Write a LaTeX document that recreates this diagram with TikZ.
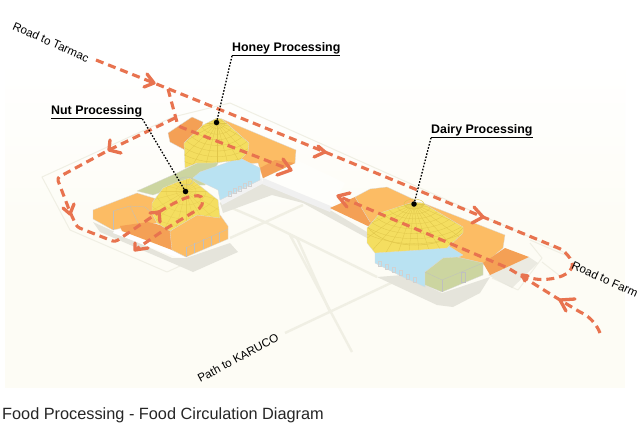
\documentclass[tikz,border=0pt]{standalone}
\usepackage{fontspec}
\setmainfont{Liberation Sans}
\definecolor{darkor}{HTML}{F4A055}
\definecolor{lightor}{HTML}{FCBC64}
\definecolor{yel}{HTML}{F4DE60}
\definecolor{blu}{HTML}{B9E2F2}
\definecolor{gre}{HTML}{CCD5A0}
\definecolor{flow}{HTML}{E8734F}
\definecolor{shad}{HTML}{E5E4DB}
\definecolor{pale}{HTML}{F0EFE4}
\definecolor{cream}{HTML}{FDFCF5}
\definecolor{hatch}{HTML}{E0C64A}
\tikzset{
  flowline/.style={draw=flow,line width=3.1pt,dash pattern=on 8pt off 5pt,line join=round,rounded corners=3pt},
  chev/.style={draw=flow,line width=3.3pt,line cap=round,line join=round},
  leader/.style={draw=black,line width=1.3pt,dash pattern=on 1.6pt off 1.6pt},
  dotmark/.style={circle,fill=black,inner sep=0pt,minimum size=5.5pt},
  lab/.style={font=\fontsize{12.4}{14}\selectfont\bfseries,inner sep=0pt},
  road/.style={font=\fontsize{11.6}{13}\selectfont,inner sep=0pt},
  ground/.style={draw=pale,line width=2.4pt},
  site/.style={draw=pale,line width=1pt,line join=round},
  shadow/.style={fill=shad,draw=none},
  bld/.style={draw=black!14,line width=.3pt,line join=round},
  hatchl/.style={draw=hatch,line width=.3pt},
  wire/.style={draw=black!25,line width=.3pt},
}
\begin{document}
\begin{tikzpicture}[x=1pt,y=-1pt]
\useasboundingbox (0,0) rectangle (640,426);
\fill[white] (0,0) rectangle (640,426);
\shade[top color=white,bottom color=cream] (5,60) rectangle (625,230);
\fill[cream] (5,229.5) rectangle (625,388);

% site outlines
\draw[site] (173,117) -- (42,177) -- (70,230) -- (167,272) -- (180,266);
\draw[site] (173,117) -- (230,103) -- (570,255);
\fill[white!60!cream] (297,160) -- (345,183) -- (333,207) -- (263,178) -- cycle;
\draw[site] (530,243) -- (542,258) -- (518,290) -- (492,278);
\draw[site] (530,240) -- (572,258);
\draw[site] (542,262) -- (560,276);

% ground paths
\draw[ground] (220,203) -- (267,223) -- (377,277);
\draw[ground] (230,238) -- (303,205);
\draw[ground] (285,333) -- (393,282);
\draw[ground] (290,235) -- (352,352);
\draw[ground] (297,238) -- (330,312);
\draw[ground] (290,235) -- (297,238);

% shadows and strip
\fill[shadow] (220,203) -- (262,183) -- (330,210) -- (367,232) -- (367,238) -- (303,203) -- (272,195) -- (223,213) -- cycle;
\fill[black!6] (263,178) -- (333,207) -- (330,212) -- (262,184) -- cycle;
\fill[black!5] (220,200) -- (262,178) -- (262,184) -- (222,205) -- cycle;
\fill[shadow] (93,222) -- (172,258) -- (186,258) -- (230,243) -- (238,252) -- (193,272) -- (177,265) -- (100,232) -- cycle;
\fill[white] (115,229) -- (172,250) -- (186,258) -- (176,257) -- (113,233) -- cycle;
\fill[shadow] (377,277) -- (403,275) -- (442,293) -- (490,277) -- (480,293) -- (453,307) -- (437,305) -- cycle;
\fill[shadow,opacity=.75] (488,275) -- (512,288) -- (538,263) -- (529,257) -- cycle;

% Honey building
\fill[darkor,bld] (168,133) -- (192,117) -- (203,122) -- (200,135) -- (185,150) -- (170,142) -- cycle;
\fill[lightor,bld] (222,119) -- (296,150) -- (295,163) -- (263,178) -- (258,163) -- (235,165) -- (225,130) -- cycle;
\fill[darkor] (295,163) -- (263,178) -- (260,168) -- (275,160) -- cycle;
\fill[gre,bld] (137,191) -- (177,173) -- (197,163) -- (220,160) -- (205,185) -- (182,185) -- (153,195) -- cycle;
\fill[blu,bld] (193,178) -- (200,172) -- (240,158) -- (260,168) -- (260,180) -- (220,200) -- (218,190) -- cycle;
\foreach \i in {0,1,2,3,4}{\draw[wire,draw=black!18] ({228+\i*5},{191-\i*2.5}) rectangle ++(3,5);}
\begin{scope}
\clip (184,143) -- (203,125) -- (217,118) -- (222,119) -- (249,143) -- (248,152) -- (240,160) -- (213,163) -- (197,163) -- (185,168) -- cycle;
\fill[yel] (160,100) rectangle (270,180);
\foreach \a in {0,15,...,345}{\draw[hatchl] (217,123) -- ++(\a:70);}
\foreach \r in {8,16,...,64}{\draw[hatchl] (217,123) ellipse [x radius=\r,y radius={.7*\r}];}
\end{scope}
\draw[bld] (184,143) -- (203,125) -- (217,118) -- (222,119) -- (249,143) -- (248,152) -- (240,160) -- (213,163) -- (197,163) -- (185,168) -- cycle;

% Nut building
\fill[lightor,bld] (93,210) -- (137,193) -- (160,200) -- (165,222) -- (122,228) -- (113,230) -- (93,219) -- cycle;
\draw[wire] (113,211) -- (130,206) -- (145,207) -- (157,217);
\draw[wire] (113,211) -- (113,230);
\draw[wire] (130,206) -- (140,227);
\fill[darkor] (120,226) -- (148,222) -- (172,228) -- (172,250) -- (122,231) -- cycle;
\fill[lightor,bld] (170,232) -- (190,212) -- (218,212) -- (228,226) -- (228,239) -- (186,257) -- (172,250) -- cycle;
\foreach \i in {0,1,2,3,4}{\draw[wire] ({186+\i*8.4},{247-\i*3.8}) -- ++(0,10);}
\draw[wire] (186,248) -- (228,229);
\begin{scope}
\clip (152,203) -- (163,188) -- (177,182) -- (190,178) -- (218,200) -- (220,218) -- (197,215) -- (170,231) -- (157,223) -- (152,213) -- cycle;
\fill[yel] (140,170) rectangle (230,240);
\foreach \a in {0,15,...,345}{\draw[hatchl,draw opacity=.6] (186,191) -- ++(\a:60);}
\foreach \r in {10,20,...,60}{\draw[hatchl,draw opacity=.6] (186,191) ellipse [x radius=\r,y radius={.7*\r}];}
\end{scope}
\draw[bld] (152,203) -- (163,188) -- (177,182) -- (190,178) -- (218,200) -- (220,218) -- (197,215) -- (170,231) -- (157,223) -- (152,213) -- cycle;
\draw[black!25,line width=.3pt] (186,181) ellipse [x radius=7,y radius=4];

% Dairy building
\fill[darkor] (330,208) -- (355,197) -- (378,212) -- (372,228) -- cycle;
\fill[lightor,bld] (355,197) -- (370,189) -- (387,187) -- (415,200) -- (400,225) -- (370,222) -- cycle;
\fill[lightor,bld] (423,203) -- (505,235) -- (503,248) -- (483,265) -- (450,255) -- (445,225) -- cycle;
\fill[darkor] (505,248) -- (529,257) -- (490,275) -- (483,263) -- cycle;
\fill[blu,bld] (375,250) -- (420,245) -- (447,245) -- (463,255) -- (425,272) -- (425,287) -- (403,277) -- (375,263) -- cycle;
\foreach \i in {0,1,2,3,4,5}{\draw[wire,draw=black!18] ({378+\i*7},{261+\i*3.2}) rectangle ++(3,5);}
\fill[gre,bld] (425,272) -- (443,258) -- (457,257) -- (483,263) -- (483,275) -- (442,292) -- (425,285) -- cycle;
\draw[wire] (442,280) -- (442,292);
\draw[wire] (425,272) -- (442,280) -- (483,263);
\draw[wire] (461,272) rectangle ++(4,10);
\begin{scope}
\clip (367,228) -- (380,213) -- (413,202) -- (423,203) -- (463,227) -- (463,233) -- (447,248) -- (420,250) -- (375,253) -- (367,243) -- cycle;
\fill[yel] (360,195) rectangle (470,260);
\foreach \a in {0,12,...,348}{\draw[hatchl] (414,204) -- ++(\a:70);}
\foreach \r in {9,18,...,72}{\draw[hatchl] (414,204) ellipse [x radius=\r,y radius={.55*\r}];}
\draw[hatch,line width=.5pt] (367,226) .. controls (385,252) and (445,250) .. (463,228);
\end{scope}
\draw[bld] (367,228) -- (380,213) -- (413,202) -- (423,203) -- (463,227) -- (463,233) -- (447,248) -- (420,250) -- (375,253) -- (367,243) -- cycle;
\draw[hatch,line width=.4pt] (414,204) ellipse [x radius=10,y radius=5];

% flow paths
\path[flowline] (96,60) -- (154,83) -- (325,152) -- (483,217) -- (563,250) -- (570,258) .. controls (575,268) and (568,276) .. (550,279) .. controls (540,280) and (530,279) .. (523,275);
\path[flowline] (600,333) .. controls (597,325) and (590,317) .. (580,312) -- (560,300) -- (523,277) -- (508,268) -- (338,196);
\path[flowline] (168,89) -- (178,126) -- (291,170);
\path[flowline] (175,118) -- (109,150) -- (57,178) -- (70,212) -- (77,227) -- (115,242) -- (159,212);
\path[flowline] (159,212) .. controls (170,205) and (185,197) .. (195,196) .. controls (204,195) and (204,205) .. (197,210) -- (167,228) -- (135,250);

% chevrons
\draw[chev] (147,74) -- (154,83) -- (144,87);
\draw[chev] (318,146) -- (325,152) -- (314,157);
\draw[chev] (283,159) -- (291,170) -- (277,175);
\draw[chev] (110,140) -- (109,150) -- (121,153);
\draw[chev] (63,208) -- (70,214) -- (74,204);
\draw[chev] (150,213) -- (159,212) -- (160,222);
\draw[chev] (135,243) -- (135,250) -- (148,248);
\draw[chev] (350,193) -- (338,196) -- (347,207);
\draw[chev] (474,207) -- (483,217) -- (472,223);
\draw[chev] (528,276) -- (522,275) -- (525,281);
\draw[chev] (575,299) -- (560,300) -- (566,311);

% labels and leaders
\node[lab,anchor=base west] (honey) at (232,51) {\underline{Honey Processing}};
\node[lab,anchor=base west] (nut) at (51,114) {\underline{Nut Processing}};
\node[lab,anchor=base west] (dairy) at (431,133) {\underline{Dairy Processing}};
\node[dotmark] (honeydot) at (216.5,122.5) {};
\node[dotmark] (nutdot) at (185.5,191.5) {};
\node[dotmark] (dairydot) at (414,204) {};
\draw[leader] (honey.south west) -- (honeydot);
\draw[leader] (nut.south east) -- (nutdot);
\draw[leader] (dairy.south west) -- (dairydot);

\node[road,rotate=-24] (tarmac) at (51,42) {Road to Tarmac};
\node[road,rotate=-24] (farm) at (605,279) {Road to Farm};
\node[road,rotate=28] (karuco) at (238,358) {Path to KARUCO};
\node[font=\fontsize{16.3}{18}\selectfont,anchor=base west,inner sep=0pt,text=black!85] (caption) at (2,419) {Food Processing - Food Circulation Diagram};
\end{tikzpicture}
\end{document}
